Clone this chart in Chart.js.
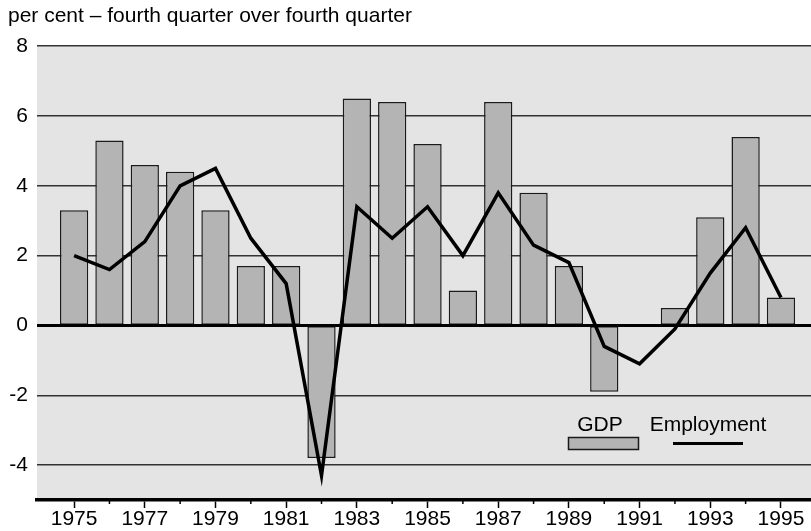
<!DOCTYPE html>
<html>
<head>
<meta charset="utf-8">
<script src="https://cdn.jsdelivr.net/npm/chart.js@4.4.0/dist/chart.umd.min.js"></script>
<style>
  html, body { margin: 0; padding: 0; background: #fff; }
  #wrap { width: 811px; height: 531px; }
</style>
</head>
<body>
<div id="wrap"><canvas id="chart" width="811" height="531"></canvas></div>
<script>
const years = [1975, 1976, 1977, 1978, 1979, 1980, 1981, 1982, 1983, 1984, 1985,
               1986, 1987, 1988, 1989, 1990, 1991, 1992, 1993, 1994, 1995];
const gdp = [3.3, 5.3, 4.6, 4.4, 3.3, 1.7, 1.7, -3.8, 6.5, 6.4, 5.2,
             1.0, 6.4, 3.8, 1.7, -1.9, null, 0.5, 3.1, 5.4, 0.8];
const employment = [2.0, 1.6, 2.4, 4.0, 4.5, 2.5, 1.2, -4.3, 3.4, 2.5, 3.4,
                    2.0, 3.8, 2.3, 1.8, -0.6, -1.1, -0.1, 1.5, 2.8, 0.8];
const yTicks = [-4, -2, 0, 2, 4, 6, 8];

const FONT = 'Liberation Sans, Arial, sans-serif';

// grey plot background, zero line over the bars, minor ticks and the legend
const backdrop = {
  id: 'backdrop',
  beforeDraw(chart) {
    const { ctx, chartArea: a } = chart;
    ctx.save();
    ctx.fillStyle = '#e4e4e4';
    ctx.fillRect(a.left, a.top, a.right - a.left, a.bottom - a.top);
    ctx.restore();
  },
  afterDatasetDraw(chart, args) {
    if (args.meta.type !== 'bar') return;
    const { ctx, chartArea: a } = chart;
    const y0 = chart.scales.y.getPixelForValue(0);
    ctx.save();
    ctx.strokeStyle = '#000';
    ctx.lineWidth = 3;
    ctx.beginPath();
    ctx.moveTo(a.left, y0);
    ctx.lineTo(a.right, y0);
    ctx.stroke();
    ctx.restore();
  },
  afterDraw(chart) {
    const { ctx, chartArea: a } = chart;
    const x = chart.scales.x;
    ctx.save();
    ctx.strokeStyle = '#000';
    ctx.lineWidth = 1.5;
    years.forEach(yr => {
      if (yr % 2 === 0) {
        const px = x.getPixelForValue(yr);
        ctx.beginPath();
        ctx.moveTo(px, a.bottom);
        ctx.lineTo(px, a.bottom + 4);
        ctx.stroke();
      }
    });
    // legend
    ctx.font = '21px ' + FONT;
    ctx.fillStyle = '#000';
    ctx.textAlign = 'center';
    ctx.textBaseline = 'alphabetic';
    ctx.fillText('GDP', 600, 431);
    ctx.fillText('Employment', 708, 431);
    ctx.fillStyle = '#b4b4b4';
    ctx.fillRect(568.5, 437.5, 70, 12);
    ctx.strokeStyle = '#1a1a1a';
    ctx.lineWidth = 1.5;
    ctx.strokeRect(568.5, 437.5, 70, 12);
    ctx.strokeStyle = '#000';
    ctx.lineWidth = 3;
    ctx.beginPath();
    ctx.moveTo(673, 443.5);
    ctx.lineTo(743, 443.5);
    ctx.stroke();
    ctx.restore();
  }
};

new Chart(document.getElementById('chart'), {
  type: 'bar',
  data: {
    datasets: [
      {
        type: 'line',
        label: 'Employment',
        data: years.map((yr, i) => ({ x: yr, y: employment[i] })),
        borderColor: '#000',
        borderWidth: 3.5,
        borderJoinStyle: 'miter',
        pointRadius: 0,
        tension: 0,
        order: 0
      },
      {
        type: 'bar',
        label: 'GDP',
        data: years.map((yr, i) => ({ x: yr, y: gdp[i] })),
        backgroundColor: '#b4b4b4',
        borderColor: '#1a1a1a',
        borderWidth: 1.5,
        borderSkipped: false,
        barPercentage: 0.8,
        categoryPercentage: 1,
        order: 1
      }
    ]
  },
  options: {
    responsive: false,
    animation: false,
    layout: { padding: { left: 8, right: 0, top: 0, bottom: 0 } },
    plugins: {
      legend: { display: false },
      tooltip: { enabled: false },
      title: {
        display: true,
        text: 'per cent \u2013 fourth quarter over fourth quarter',
        align: 'start',
        color: '#000',
        font: { family: FONT, size: 21, weight: 'normal', lineHeight: 1.2 },
        padding: { top: 4, bottom: 17 }
      }
    },
    scales: {
      x: {
        type: 'linear',
        offset: false,
        min: 1973.95,
        max: 1995.85,
        afterBuildTicks(scale) {
          scale.ticks = years.map(v => ({ value: v }));
        },
        ticks: {
          autoSkip: false,
          maxRotation: 0,
          padding: 1,
          color: '#000',
          font: { family: FONT, size: 21, lineHeight: 1.0 },
          callback: v => (v % 2 === 1 ? String(v) : '')
        },
        grid: {
          offset: false,
          drawOnChartArea: false,
          drawTicks: true,
          tickLength: 8,
          tickWidth: 1.5,
          tickColor: c => (c.tick && c.tick.value % 2 === 1 ? '#000' : 'rgba(0,0,0,0)')
        },
        border: { display: true, color: '#000', width: 3.5 }
      },
      y: {
        min: -5,
        max: 8,
        afterBuildTicks(scale) {
          scale.ticks = yTicks.map(v => ({ value: v }));
        },
        afterFit(scale) {
          scale.width = 29;
        },
        ticks: {
          padding: 9,
          color: '#000',
          font: { family: FONT, size: 21 }
        },
        grid: {
          drawTicks: false,
          color: '#333',
          lineWidth: 1.5
        },
        border: { display: false }
      }
    }
  },
  plugins: [backdrop]
});
</script>
</body>
</html>
